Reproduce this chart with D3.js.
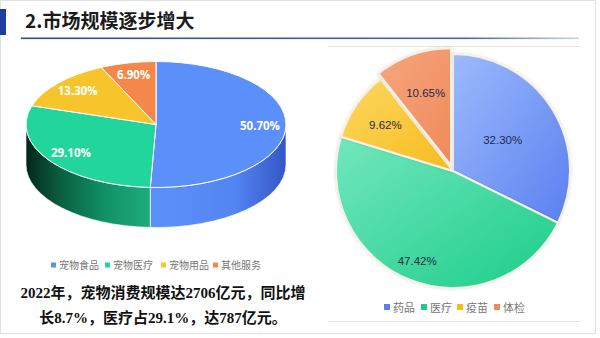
<!DOCTYPE html>
<html><head><meta charset="utf-8">
<script src="https://cdn.jsdelivr.net/npm/d3@7"></script>
<style>
html,body{margin:0;padding:0;background:#fff;}
svg{display:block;}
</style></head>
<body><svg id="c" width="600" height="338"></svg>
<script>
// ---- data ----
const titleText = "2.市场规模逐步增大";
const leftCategories = ["宠物食品","宠物医疗","宠物用品","其他服务"];
const leftValues = [50.70, 29.10, 13.30, 6.90];
const rightCategories = ["药品","医疗","疫苗","体检"];
const rightValues = [32.30, 47.42, 9.62, 10.65];
const noteLines = ["2022年，宠物消费规模达2706亿元，同比增","长8.7%，医疗占29.1%，达787亿元。"];

// ---- styles ----
const leftColors = ["#5b8ff9","#22d69b","#f7c52b","#f5874b"];
const rightColors = [["#9cbafc","#5a80f0"],["#72e7bd","#1ccd8a"],["#fdd862","#f6bb1c"],["#f6a67e","#ef8a5a"]];
const rightLabelR = [0.5, 0.83, 0.7, 0.71];
const explode = [0,0,0,6];

const svg = d3.select("#c");
const defs = svg.append("defs");

// slide frame
svg.append("rect").attr("x",0.5).attr("y",0.5).attr("width",595).attr("height",333)
  .attr("fill","#fff").attr("stroke","#e2e2e2");

// title
svg.append("rect").attr("x",0).attr("y",9).attr("width",6).attr("height",26).attr("fill","#1c3f9e");
svg.append("text").attr("x",25).attr("y",28).text(titleText)
  .attr("font-family","'Noto Sans CJK SC',sans-serif").attr("font-weight","bold")
  .attr("font-size",19).attr("fill","#1b1b1b");
const lg = defs.append("linearGradient").attr("id","ul").attr("x1","0").attr("x2","1").attr("y1","0").attr("y2","0");
lg.append("stop").attr("offset","0").attr("stop-color","#2a4a9c");
lg.append("stop").attr("offset","0.8").attr("stop-color","#4a66aa");
lg.append("stop").attr("offset","1").attr("stop-color","#c9d2e6");
svg.append("rect").attr("x",21).attr("y",37.5).attr("width",558).attr("height",1.6).attr("fill","url(#ul)");

// ---- left 3D pie ----
const cx = 156, cy = 124.5, rx = 130, ry = 63, depth = 40;
const pieL = d3.pie().sort(null).value(d=>d)(leftValues);
const P = (a, dy=0) => [cx + rx*Math.sin(a), cy - ry*Math.cos(a) + dy];

// side gradients
function sideGrad(id, stops){
  const g = defs.append("linearGradient").attr("id",id).attr("gradientUnits","userSpaceOnUse")
    .attr("x1",cx-rx).attr("x2",cx+rx).attr("y1",0).attr("y2",0);
  stops.forEach(s=>g.append("stop").attr("offset",s[0]).attr("stop-color",s[1]));
}
sideGrad("side0",[[0,"#5a8ef7"],[0.5,"#5c90f8"],[0.8,"#5385f2"],[1,"#3556c6"]]);
sideGrad("side1",[[0,"#02261a"],[0.12,"#0a5a3d"],[0.3,"#119066"],[0.5,"#1fb07f"],[1,"#1fb07f"]]);
sideGrad("side2",[[0,"#8a6a10"],[1,"#c9a020"]]);
sideGrad("side3",[[0,"#8a4a20"],[1,"#c86a38"]]);

const gL = svg.append("g");
pieL.forEach((d,i)=>{
  const s = Math.max(d.startAngle, Math.PI/2), e = Math.min(d.endAngle, 3*Math.PI/2);
  if (s < e){
    const p0=P(s), p1=P(e), p2=P(e,depth), p3=P(s,depth);
    const path = `M${p0}A${rx},${ry} 0 0 1 ${p1}L${p2}A${rx},${ry} 0 0 0 ${p3}Z`;
    gL.append("path").attr("d",path).attr("fill",`url(#side${i})`)
      .attr("stroke","#ffffff").attr("stroke-width",0.8).attr("stroke-opacity",0.8);
  }
});
const arcL = d3.arc().innerRadius(0).outerRadius(rx);
const topG = gL.append("g").attr("transform",`translate(${cx},${cy}) scale(1,${ry/rx})`);
topG.selectAll("path").data(pieL).join("path")
  .attr("d",arcL).attr("fill",(d,i)=>leftColors[i])
  .attr("stroke","#ffffff").attr("stroke-width",1).attr("vector-effect","non-scaling-stroke");
gL.selectAll("text.lbl").data(pieL).join("text").attr("class","lbl")
  .attr("x",d=>{const a=(d.startAngle+d.endAngle)/2; return cx+0.8*rx*Math.sin(a);})
  .attr("y",d=>{const a=(d.startAngle+d.endAngle)/2; return cy-0.8*ry*Math.cos(a)+4;})
  .attr("text-anchor","middle").attr("font-family","'Open Sans','Noto Sans',sans-serif")
  .attr("font-weight","bold").attr("font-size",11.5).attr("fill","#fff")
  .text(d=>d.value.toFixed(2)+"%");

// left legend
const legL = svg.append("g").attr("font-family","'Noto Sans CJK SC',sans-serif").attr("font-size",10).attr("fill","#777");
const legLx = [51,105,161,213];
leftCategories.forEach((c,i)=>{
  legL.append("rect").attr("x",legLx[i]).attr("y",262.5).attr("width",5).attr("height",5).attr("fill",leftColors[i]);
  legL.append("text").attr("x",legLx[i]+8).attr("y",268.5).text(c);
});

// note text
const note = svg.append("g").attr("font-family","'Liberation Serif','Noto Sans CJK SC',serif")
  .attr("font-weight","bold").attr("font-size",15).attr("fill","#111").attr("text-anchor","middle");
noteLines.forEach((t,i)=>note.append("text").attr("x",163).attr("y",298+i*25).text(t));

// ---- right pie ----
svg.append("line").attr("x1",328).attr("x2",580).attr("y1",46.5).attr("y2",46.5).attr("stroke","#e6e6e6");
svg.append("line").attr("x1",328).attr("x2",580).attr("y1",321.5).attr("y2",321.5).attr("stroke","#e6e6e6");

const rcx = 453, rcy = 171, R = 117;
const pieR = d3.pie().sort(null).value(d=>d)(rightValues);
rightColors.forEach((c,i)=>{
  const g = defs.append("linearGradient").attr("id","rg"+i).attr("x1","0").attr("y1","0").attr("x2","1").attr("y2","1");
  g.append("stop").attr("offset","0").attr("stop-color",c[0]);
  g.append("stop").attr("offset","1").attr("stop-color",c[1]);
});
const sh = defs.append("filter").attr("id","sh").attr("x","-10%").attr("y","-10%").attr("width","120%").attr("height","120%");
sh.append("feDropShadow").attr("dx",0).attr("dy",0).attr("stdDeviation",1.2).attr("flood-color","#000").attr("flood-opacity",0.18);
const arcR = d3.arc().innerRadius(0).outerRadius(R);
const gR = svg.append("g").attr("transform",`translate(${rcx},${rcy})`);
gR.selectAll("path").data(pieR).join("path")
  .attr("transform",(d,i)=>{const a=(d.startAngle+d.endAngle)/2; return `translate(${explode[i]*Math.sin(a)},${-explode[i]*Math.cos(a)})`;})
  .attr("d",arcR).attr("fill",(d,i)=>`url(#rg${i})`)
  .attr("stroke","#f6f1e4").attr("stroke-width",2).attr("filter","url(#sh)");
gR.selectAll("text").data(pieR).join("text")
  .attr("x",(d,i)=>{const a=(d.startAngle+d.endAngle)/2; return rightLabelR[i]*R*Math.sin(a);})
  .attr("y",(d,i)=>{const a=(d.startAngle+d.endAngle)/2; return -rightLabelR[i]*R*Math.cos(a)+4;})
  .attr("text-anchor","middle").attr("font-family","'Liberation Sans',Arial,sans-serif")
  .attr("font-size",11.5).attr("fill","#1d2a4a").text(d=>d.value.toFixed(2)+"%");

// right legend
const legR = svg.append("g").attr("font-family","'Noto Sans CJK SC',sans-serif").attr("font-size",11).attr("fill","#777");
const legRx = [384,421,457,494];
rightCategories.forEach((c,i)=>{
  legR.append("rect").attr("x",legRx[i]).attr("y",304).attr("width",6).attr("height",6).attr("fill",rightColors[i][1]);
  legR.append("text").attr("x",legRx[i]+9).attr("y",311.5).text(c);
});
</script></body></html>
